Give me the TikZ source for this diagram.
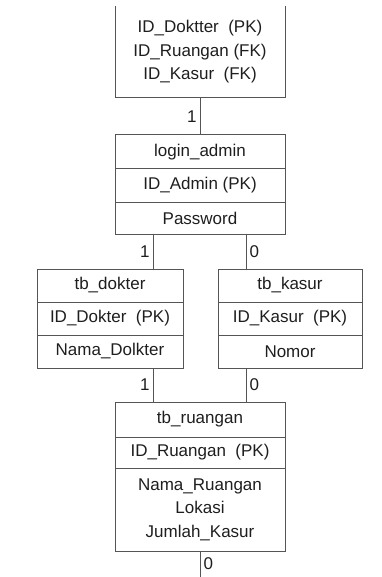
\documentclass[tikz,border=0pt]{standalone}
\usepackage{fontspec}
\setmainfont{Liberation Sans}
\usetikzlibrary{positioning}
\definecolor{erline}{RGB}{85,85,85}
\definecolor{ertext}{RGB}{30,30,30}
\tikzset{
  cell/.style={rectangle, draw=erline, line width=1pt, text=ertext,
    align=center, inner sep=0pt, outer sep=0pt, minimum height=33pt,
    font=\fontsize{17}{23.5}\selectfont},
  widecell/.style={cell, minimum width=170pt},
  sidecell/.style={cell, minimum width=145pt},
  link/.style={draw=erline, line width=1pt},
  card/.style={font=\fontsize{17}{20}\selectfont, text=ertext, inner sep=3pt}
}

\begin{document}
\begin{tikzpicture}[x=1pt, y=-1pt]
  \useasboundingbox (0,0) rectangle (381,577);

  % Top table (cut off)
  \node[cell, draw=none, minimum width=170pt, minimum height=92pt] (inap) at (200,52)
    {ID\_Doktter~ (PK)\\ID\_Ruangan (FK)\\ID\_Kasur~ (FK)};
  \draw[link] (inap.north west) -- (inap.south west) -- (inap.south east) -- (inap.north east);

  % login_admin
  \node[widecell, minimum height=34pt] (loginhd) at (200,152) {login\_admin};
  \node[widecell, below=0pt of loginhd] (loginid) {ID\_Admin (PK)};
  \node[widecell, below=0pt of loginid, minimum height=32pt] (loginpw) {Password};

  % tb_dokter
  \node[sidecell, minimum width=146pt] (dokhd) at (110,285.5) {tb\_dokter};
  \node[sidecell, minimum width=146pt, below=0pt of dokhd] (dokid) {ID\_Dokter~ (PK)};
  \node[sidecell, minimum width=146pt, below=0pt of dokid] (dokatr) {Nama\_Dolkter};

  % tb_kasur
  \node[sidecell, minimum width=144pt] (kashd) at (290,285.5) {tb\_kasur};
  \node[sidecell, minimum width=144pt, below=0pt of kashd] (kasid) {ID\_Kasur~ (PK)};
  \node[sidecell, minimum width=144pt, below=0pt of kasid] (kasatr) {Nomor};

  % tb_ruangan
  \node[widecell, minimum height=35pt] (ruanghd) at (200,419.5) {tb\_ruangan};
  \node[widecell, minimum height=31pt, below=0pt of ruanghd] (ruangid) {ID\_Ruangan~ (PK)};
  \node[widecell, minimum height=83pt, below=0pt of ruangid] (ruangatr)
    {Nama\_Ruangan\\Lokasi\\Jumlah\_Kasur};

  % Relations
  \draw[link] (inap.south) -- (loginhd.north) node[card, midway, left] {1};
  \draw[link] ([xshift=-47pt]loginpw.south) -- ([xshift=-47pt]loginpw.south |- dokhd.north)
    node[card, midway, left] {1};
  \draw[link] ([xshift=46pt]loginpw.south) -- ([xshift=46pt]loginpw.south |- kashd.north)
    node[card, midway, right] {0};
  \draw[link] ([xshift=43pt]dokatr.south) -- ([xshift=43pt]dokatr.south |- ruanghd.north)
    node[card, midway, left] {1};
  \draw[link] ([xshift=-44pt]kasatr.south) -- ([xshift=-44pt]kasatr.south |- ruanghd.north)
    node[card, midway, right] {0};
  \coordinate (tail) at (200,577);
  \draw[link] (ruangatr.south) -- (tail) node[card, midway, right] {0};
\end{tikzpicture}
\end{document}
